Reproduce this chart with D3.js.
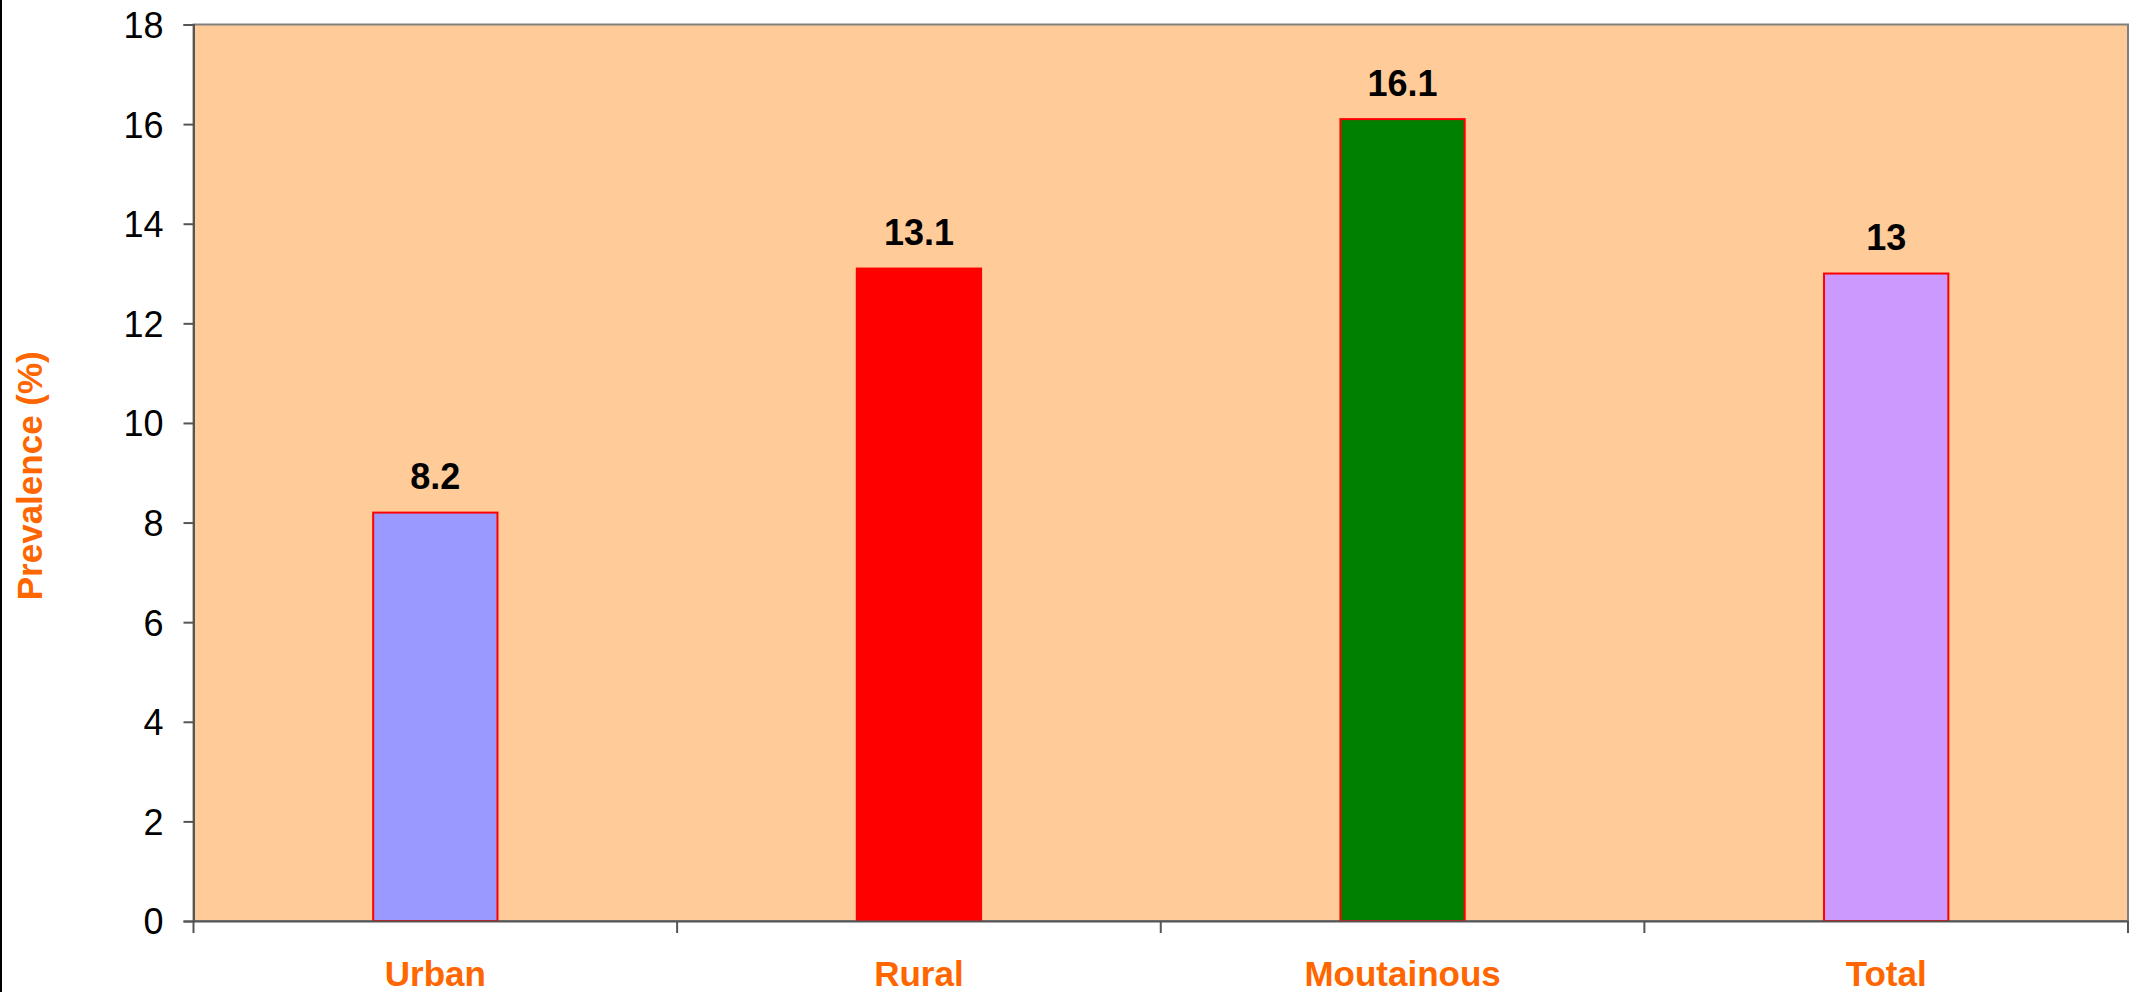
<!DOCTYPE html>
<html>
<head>
<meta charset="utf-8">
<script src="https://cdn.jsdelivr.net/npm/d3@7"></script>
<style>
  html, body { margin: 0; padding: 0; background: #fff; }
  svg { display: block; }
  text { font-family: "Liberation Sans", Arial, sans-serif; }
</style>
</head>
<body>
<svg id="chart" width="2133" height="992"></svg>
<script>
const categories = ["Urban", "Rural", "Moutainous", "Total"];
const values = [8.2, 13.1, 16.1, 13];
const barColors = ["#9999FF", "#FF0000", "#008000", "#CC99FF"];
const yTicks = [0, 2, 4, 6, 8, 10, 12, 14, 16, 18];

const W = 2133, H = 992;
const margin = { left: 193.5, top: 24.5, right: 5, bottom: 71 };
const svg = d3.select("#chart");

// left border line of the image
svg.append("line").attr("x1", 1).attr("x2", 1).attr("y1", 0).attr("y2", H)
  .attr("stroke", "#000").attr("stroke-width", 2);

const x0 = margin.left, x1 = W - margin.right;
const y0 = H - margin.bottom, y1 = margin.top;

const x = d3.scaleBand().domain(categories).range([x0, x1]).paddingInner(0).paddingOuter(0);
const y = d3.scaleLinear().domain([0, 18]).range([y0, y1]);

// plot area
svg.append("rect").attr("x", x0).attr("y", y1).attr("width", x1 - x0).attr("height", y0 - y1)
  .attr("fill", "#FFCC99").attr("stroke", "#808080").attr("stroke-width", 2);

const barW = x.bandwidth() * 0.257;

svg.selectAll(".bar").data(categories).enter().append("rect")
  .attr("class", "bar")
  .attr("x", d => x(d) + x.bandwidth() / 2 - barW / 2)
  .attr("y", (d, i) => y(values[i]))
  .attr("width", barW)
  .attr("height", (d, i) => y(0) - y(values[i]))
  .attr("fill", (d, i) => barColors[i])
  .attr("stroke", "#FF0000").attr("stroke-width", 2);

// value labels
svg.selectAll(".val").data(categories).enter().append("text")
  .attr("x", d => x(d) + x.bandwidth() / 2)
  .attr("y", (d, i) => y(values[i]) - 23.5)
  .attr("text-anchor", "middle")
  .attr("font-size", 36).attr("font-weight", "bold").attr("fill", "#000")
  .text((d, i) => values[i]);

// y axis
const yAxis = d3.axisLeft(y).tickValues(yTicks).tickSize(10).tickPadding(20).tickFormat(d3.format("d"));
const gy = svg.append("g").attr("transform", `translate(${x0},0)`).call(yAxis);
gy.select(".domain").attr("stroke", "#555").attr("stroke-width", 2);
gy.selectAll(".tick line").attr("stroke", "#555").attr("stroke-width", 2);
gy.selectAll(".tick text").attr("font-size", 36).attr("fill", "#000")
  .attr("font-family", "'Liberation Sans', Arial, sans-serif").attr("dy", "0.36em");

// x axis
const gx = svg.append("g").attr("transform", `translate(0,${y0})`)
  .call(d3.axisBottom(x).tickSize(0).tickFormat(""));
gx.select(".domain").attr("stroke", "#555").attr("stroke-width", 2);
const bounds = categories.map(c => x(c)).concat([x1]);
gx.selectAll(".sep").data(bounds).enter().append("line")
  .attr("x1", d => d).attr("x2", d => d).attr("y1", 0).attr("y2", 12)
  .attr("stroke", "#555").attr("stroke-width", 2);

svg.selectAll(".cat").data(categories).enter().append("text")
  .attr("x", d => x(d) + x.bandwidth() / 2)
  .attr("y", 986)
  .attr("text-anchor", "middle")
  .attr("font-size", 35).attr("font-weight", "bold").attr("fill", "#FF6600")
  .text(d => d);

// y title
svg.append("text")
  .attr("transform", `translate(42,${(y0 + y1) / 2 + 3}) rotate(-90)`)
  .attr("text-anchor", "middle")
  .attr("font-size", 35).attr("font-weight", "bold").attr("fill", "#FF6600")
  .text("Prevalence (%)");
</script>
</body>
</html>
